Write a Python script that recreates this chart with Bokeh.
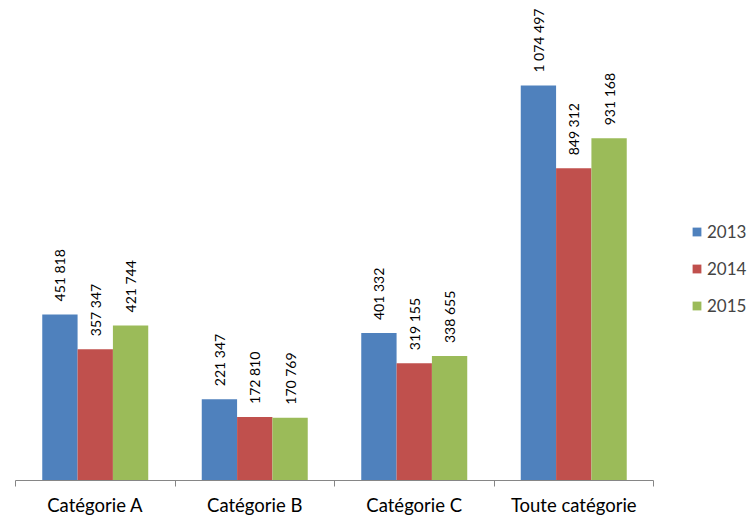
import math
from bokeh.plotting import figure
from bokeh.models import ColumnDataSource, Range1d, FixedTicker, Legend, LegendItem
from bokeh.transform import dodge
from bokeh.core.properties import value
from bokeh.embed import file_html
from bokeh.resources import INLINE

categories = ["Catégorie A", "Catégorie B", "Catégorie C", "Toute catégorie"]
years = ["2013", "2014", "2015"]
v2013 = [451818, 221347, 401332, 1074497]
v2014 = [357347, 172810, 319155, 849312]
v2015 = [421744, 170769, 338655, 931168]
colors = ["#4F81BD", "#C0504D", "#9BBB59"]

series = [v2013, v2014, v2015]
FONT = "Lato"
BW = 0.2215
N = len(categories)

p = figure(width=752, height=518, output_backend="svg", toolbar_location=None,
           x_range=Range1d(0, 737 / 159.5), y_range=Range1d(0, 1306000),
           y_axis_location=None, min_border_left=15, min_border_right=0,
           min_border_top=0, min_border_bottom=0)
p.grid.visible = False
p.outline_line_color = None

centers = [i + 0.5 for i in range(N)]
p.xaxis.bounds = (0, N)
p.xaxis.ticker = FixedTicker(ticks=centers, minor_ticks=list(range(N + 1)))
p.xaxis.major_label_overrides = {c: lab for c, lab in zip(centers, categories)}
p.xaxis.major_tick_out = 0
p.xaxis.major_tick_in = 0
p.xaxis.minor_tick_out = 6
p.xaxis.minor_tick_in = 0
p.xaxis.axis_line_color = "#868686"
p.xaxis.minor_tick_line_color = "#868686"
p.xaxis.major_label_standoff = 7
p.xaxis.major_label_text_font = FONT
p.xaxis.major_label_text_font_size = "18.5px"
p.xaxis.major_label_text_color = "#000000"

items = []
for j, (yr, vals, col) in enumerate(zip(years, series, colors)):
    src = ColumnDataSource(dict(
        x=centers, top=vals,
        lab=["{:,}".format(v).replace(",", " ") for v in vals]))
    off = (j - 1) * BW
    r = p.vbar(x=dodge("x", off), top="top", width=BW, source=src,
               fill_color=col, line_color=None)
    p.text(x=dodge("x", off), y="top", text="lab", source=src, angle=math.pi / 2,
           text_align="left", text_baseline="middle", y_offset=-13,
           text_font=value(FONT), text_font_size="14px", text_color="#000000")
    items.append(LegendItem(label=yr, renderers=[r]))

legend = Legend(items=items, location=(676, 164), padding=0, margin=0,
                border_line_color=None, background_fill_alpha=0,
                glyph_width=11, glyph_height=11, label_standoff=5,
                label_text_font=FONT, label_text_font_size="17px",
                label_height=20, spacing=16)
p.add_layout(legend)

open("out.html", "w").write(file_html(p, INLINE))
